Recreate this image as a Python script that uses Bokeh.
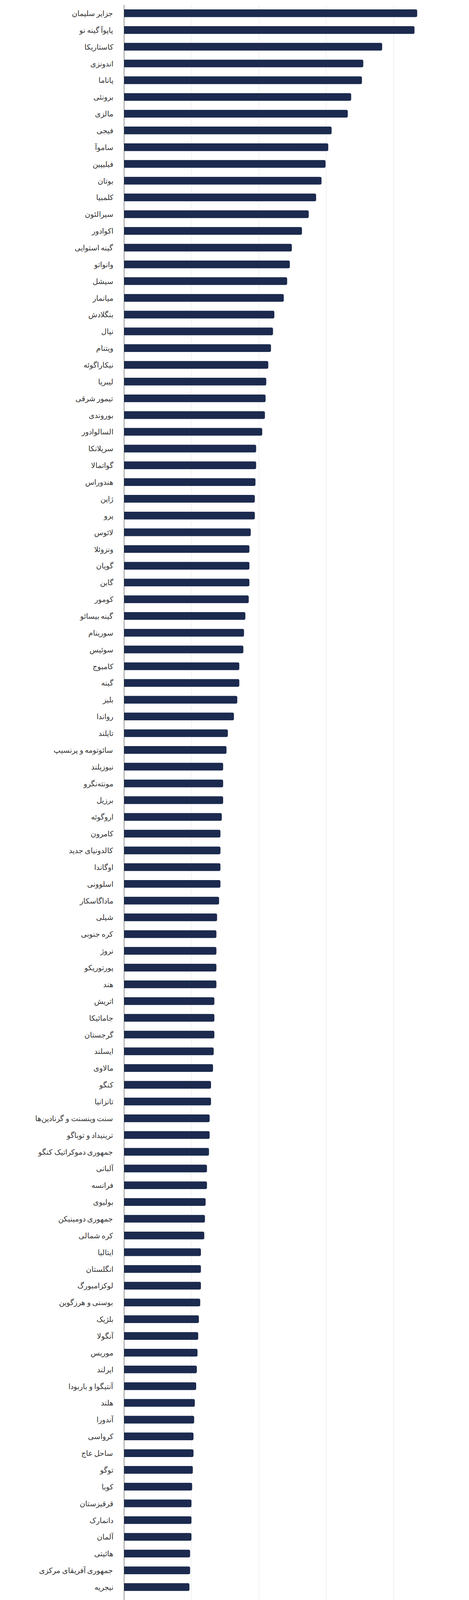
from bokeh.plotting import figure
from bokeh.models import (Range1d, FactorRange, FixedTicker, Legend, LegendItem,
                          Label, ColumnDataSource)
from bokeh.layouts import column
from bokeh.embed import file_html
from bokeh.resources import INLINE

countries = [
    "جزایر سلیمان", "پاپوآ گینه نو", "کاستاریکا", "اندونزی", "پاناما", "برونئی", "مالزی",
    "فیجی", "ساموآ", "فیلیپین", "بوتان", "کلمبیا", "سیرالئون", "اکوادور", "گینه استوایی",
    "وانواتو", "سیشل", "میانمار", "بنگلادش", "نپال", "ویتنام", "نیکاراگوئه", "لیبریا",
    "تیمور شرقی", "بوروندی", "السالوادور", "سریلانکا", "گواتمالا", "هندوراس", "ژاپن", "پرو",
    "لائوس", "ونزوئلا", "گویان", "گابن", "کومور", "گینه بیسائو", "سورینام", "سوئیس",
    "کامبوج", "گینه", "بلیز", "رواندا", "تایلند", "سائوتومه و پرنسیپ", "نیوزیلند",
    "مونته‌نگرو", "برزیل", "اروگوئه", "کامرون", "کالدونیای جدید", "اوگاندا", "اسلوونی",
    "ماداگاسکار", "شیلی", "کره جنوبی", "نروژ", "پورتوریکو", "هند", "اتریش", "جامائیکا",
    "گرجستان", "ایسلند", "مالاوی", "کنگو", "تانزانیا", "سنت وینسنت و گرنادین‌ها",
    "ترینیداد و توباگو", "جمهوری دموکراتیک کنگو", "آلبانی", "فرانسه", "بولیوی",
    "جمهوری دومینیکن", "کره شمالی", "ایتالیا", "انگلستان", "لوکزامبورگ", "بوسنی و هرزگوین",
    "بلژیک", "آنگولا", "موریس", "ایرلند", "آنتیگوا و باربودا", "هلند", "آندورا", "کرواسی",
    "ساحل عاج", "توگو", "کوبا", "قرقیزستان", "دانمارک", "آلمان", "هائیتی",
    "جمهوری آفریقای مرکزی", "نیجریه", "اتیوپی", "ارمنستان", "غنا", "پاراگوئه", "باهاما",
    "گامبیا", "چک", "بنین", "چین", "اسلواکی", "ایالات متحده", "سوئد", "کیریباتی", "زامبیا",
    "مکزیک", "لسوتو", "کوزوو", "اسواتینی", "پرتغال", "فنلاند", "تاجیکستان", "سودان جنوبی",
    "کنیا", "لهستان", "لیتوانی", "مقدونیه شمالی", "استونی", "موزامبیک", "لتونی",
    "بورکینافاسو", "اسپانیا", "یونان", "بلاروس", "کانادا", "ترکیه", "رومانی", "صربستان",
    "بلغارستان", "آذربایجان", "آرژانتین", "مجارستان", "سنگال", "روسیه", "مولداوی", "لبنان",
    "اوکراین", "استرالیا", "پاکستان", "گرینلند", "زیمبابوه", "افغانستان", "چاد",
    "آفریقای جنوبی", "قزاقستان", "قبرس", "اریتره", "مالی", "مغولستان", "ایران", "ازبکستان",
    "بوتسوانا", "فلسطین", "عراق", "سومالی", "مراکش", "سودان", "جیبوتی", "سوریه", "کیپ ورد",
    "نیجر", "اسرائیل", "نامیبیا", "ترکمنستان", "تونس", "یمن", "کویت", "امارات متحده عربی",
    "قطر", "عمان", "بحرین", "موریتانی", "عربستان سعودی", "الجزایر", "اردن", "لیبی", "مصر",
]

rainfall_mm = [
    4350, 4310, 3830, 3550, 3530, 3370, 3320,
    3080, 3030, 2990, 2930, 2850, 2740, 2640, 2490,
    2460, 2420, 2370, 2230, 2210, 2180, 2140, 2110,
    2100, 2090, 2050, 1960, 1960, 1950, 1940, 1940,
    1880, 1860, 1860, 1860, 1850, 1800, 1780, 1770,
    1710, 1710, 1680, 1630, 1540, 1520, 1470,
    1470, 1470, 1450, 1430, 1430, 1430, 1430,
    1410, 1380, 1370, 1370, 1370, 1370, 1340, 1340,
    1340, 1330, 1320, 1290, 1290, 1270,
    1270, 1260, 1230, 1230, 1210,
    1200, 1190, 1140, 1140, 1140, 1130,
    1110, 1100, 1090, 1080, 1070, 1050, 1040, 1030,
    1030, 1020, 1010, 1000, 1000, 1000, 980,
    980, 970, 960, 950, 930, 910, 910,
    890, 890, 880, 860, 860, 840, 840, 790, 790,
    770, 770, 770, 760, 760, 760, 750, 750,
    740, 740, 730, 700, 700, 700, 700,
    690, 690, 690, 690, 670, 670, 670, 670,
    660, 640, 630, 610, 560, 560, 550, 540,
    540, 540, 460, 430, 410, 400, 390,
    390, 380, 360, 340, 300, 300, 300, 250,
    250, 250, 230, 210, 210, 200, 200, 190, 180,
    180, 170, 170, 160, 145, 130, 120, 120,
    74, 63, 63, 58, 50, 40, 40, 0, 0,
]

tick_values = [0, 1000, 2000, 3000, 4000, 5000]
tick_labels = ["0", "1k", "2k", "3k", "4k", "5k"]

series_name = "میزان بارندگی"
axis_title = "میلی متر"
watermark = "AmarFact.com"

BAR = "#1b2a4e"
FONT = "Noto Sans"
FIG_W = 1184
FRAME_H = 7758
LEG_H = 118

source = ColumnDataSource(data=dict(country=countries, value=rainfall_mm))

p = figure(
    y_range=FactorRange(factors=countries[::-1]),
    x_range=Range1d(0, 5000),
    frame_width=862, frame_height=FRAME_H,
    min_border_left=317, min_border_right=5, min_border_top=12, min_border_bottom=0,
    output_backend="svg", toolbar_location=None,
)
p.outline_line_color = None
p.hbar(y="country", left=0, right="value", height=0.46, source=source,
       fill_color=BAR, line_color=None, border_radius=(0, 4, 4, 0))

xa = p.xaxis[0]
xa.ticker = FixedTicker(ticks=tick_values)
overrides = {v: l for v, l in zip(tick_values, tick_labels)}
overrides[5000] = overrides[5000] + "\u2007"
xa.major_label_overrides = overrides
xa.axis_line_color = None
xa.major_tick_line_color = None
xa.minor_tick_line_color = None
xa.major_tick_out = 0
xa.major_tick_in = 0
xa.major_label_standoff = 38
xa.major_label_text_font = FONT
xa.major_label_text_font_size = "23px"
xa.major_label_text_color = "#333333"
xa.axis_label = axis_title
xa.axis_label_text_font = FONT
xa.axis_label_text_font_size = "17px"
xa.axis_label_text_font_style = "normal"
xa.axis_label_text_color = "#666666"
xa.axis_label_standoff = 10

ya = p.yaxis[0]
ya.axis_line_color = "#333333"
ya.major_tick_line_color = None
ya.minor_tick_line_color = None
ya.major_tick_out = 0
ya.major_tick_in = 0
ya.major_label_standoff = 28
ya.major_label_text_font = FONT
ya.major_label_text_font_size = "19px"
ya.major_label_text_color = "#333333"

p.xgrid.grid_line_color = "#e6e6e6"
p.ygrid.grid_line_color = None

# legend strip + watermark below the chart (frame aligned with the chart's frame)
leg = figure(width=FIG_W, height=LEG_H, x_range=Range1d(0, FIG_W), y_range=Range1d(0, LEG_H),
             min_border=0, x_axis_location=None, y_axis_location=None,
             output_backend="svg", toolbar_location=None)
leg.outline_line_color = None
leg.xgrid.visible = False
leg.ygrid.visible = False
dot = leg.scatter(x="value", y="value", source=source, marker="circle", size=24,
                  fill_color=BAR, line_color=None, visible=False)
legend = Legend(items=[LegendItem(label=series_name, renderers=[dot])],
                orientation="horizontal", location=(171, 26),
                border_line_color=None, background_fill_alpha=0,
                inactive_fill_alpha=0,
                label_text_font=FONT, label_text_font_size="20px",
                label_text_color="#333333",
                glyph_width=60, glyph_height=60, margin=0, padding=0,
                label_standoff=0)
leg.add_layout(legend)
leg.add_layout(Label(x=FIG_W, y=15, text=watermark, text_align="right",
                     text_baseline="middle", text_font="Roboto",
                     text_font_size="18px", text_color="#9a9a9a"))

layout = column(p, leg, spacing=0)
open("out.html", "w").write(file_html(layout, INLINE))
